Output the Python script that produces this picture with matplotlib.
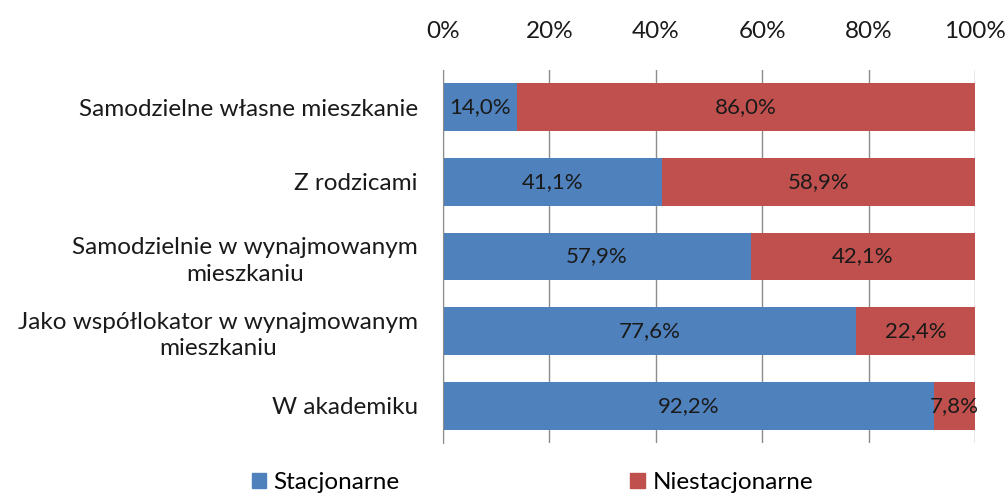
import matplotlib

matplotlib.use("Agg")
import matplotlib.pyplot as plt
from matplotlib.patches import Patch

plt.rcParams["font.family"] = ["Lato", "DejaVu Sans"]

categories = [
    "Samodzielne własne mieszkanie",
    "Z rodzicami",
    "Samodzielnie w wynajmowanym\nmieszkaniu",
    "Jako współlokator w wynajmowanym\nmieszkaniu",
    "W akademiku",
]
stacjonarne = [14.0, 41.1, 57.9, 77.6, 92.2]
niestacjonarne = [86.0, 58.9, 42.1, 22.4, 7.8]
series_names = ["Stacjonarne", "Niestacjonarne"]
ticks = [0, 20, 40, 60, 80, 100]

BLUE = "#4F81BD"
RED = "#C0504D"
GRID = "#8C8C8C"
TXT = "#1a1a1a"

fig = plt.figure(figsize=(10.08, 5.0), dpi=100)
ax = fig.add_axes([443 / 1008, 1 - 443 / 500, 532 / 1008, 373 / 500])

y = list(range(len(categories)))
ax.barh(y, stacjonarne, height=0.64, color=BLUE, zorder=2)
ax.barh(y, niestacjonarne, left=stacjonarne, height=0.64, color=RED, zorder=2)

fmt = lambda v: f"{v:.1f}%".replace(".", ",")
for i in y:
    ax.text(stacjonarne[i] / 2, i, fmt(stacjonarne[i]), ha="center", va="center",
            fontsize=16, color=TXT, zorder=3)
    ax.text(stacjonarne[i] + niestacjonarne[i] / 2, i, fmt(niestacjonarne[i]),
            ha="center", va="center", fontsize=16, color=TXT, zorder=3)

ax.set_xlim(0, 100)
ax.set_ylim(len(categories) - 0.5, -0.5)
ax.xaxis.tick_top()
ax.set_xticks(ticks)
ax.set_xticklabels([f"{t}%" for t in ticks], fontsize=17.5, color=TXT)
ax.tick_params(axis="x", length=0, pad=20)
ax.set_yticks(y)
ax.set_yticklabels(categories, fontsize=17.5, color=TXT, multialignment="center",
                   linespacing=1.3)
ax.tick_params(axis="y", length=0, pad=18)
ax.xaxis.grid(True, color=GRID, linewidth=1, zorder=0)
ax.set_axisbelow(True)
for side in ("top", "right", "bottom"):
    ax.spines[side].set_visible(False)
ax.spines["left"].set_color(GRID)

handles = [Patch(color=BLUE), Patch(color=RED)]
fig.legend(handles, series_names, loc="lower center", bbox_to_anchor=(0.528, -0.03),
           ncol=2, frameon=False, fontsize=17.5, handlelength=0.6, handleheight=0.6,
           handletextpad=0.3, columnspacing=9.5)

fig.savefig("out.png", dpi=100)
